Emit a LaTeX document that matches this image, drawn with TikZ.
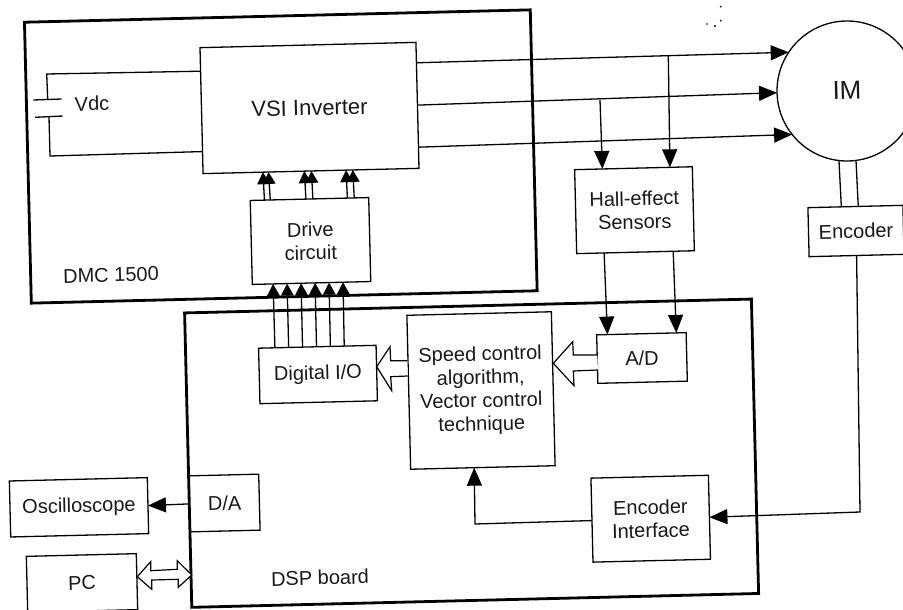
\documentclass[tikz,border=0pt]{standalone}
\usepackage{fontspec}
\setmainfont{Liberation Sans}
\usetikzlibrary{arrows.meta,calc}
\tikzset{
  lbl/.style={inner sep=0pt,rotate=1.4,align=center,font=\fontsize{20}{23.3}\selectfont,text=black!90},
  box/.style n args={2}{draw=black,line width=1.3pt,fill=white,rotate=1.4,inner sep=0pt,outer sep=0pt,
    minimum width=#1pt,minimum height=#2pt,align=center,font=\fontsize{20}{23.3}\selectfont,text=black!90},
  frame/.style n args={2}{draw=black,line width=2.8pt,rotate=1.4,inner sep=0pt,outer sep=0pt,
    minimum width=#1pt,minimum height=#2pt},
  wire/.style={draw=black,line width=1.3pt},
  big/.style={wire,-{Triangle[length=18pt,width=15pt]}},
  small/.style={wire,-{Triangle[length=12pt,width=12.5pt]}},
  hollow/.style={draw=black,line width=1.2pt,fill=white,line join=miter},
  speck/.style={fill=black,draw=none}
}
\begin{document}
\begin{tikzpicture}[x=1pt,y=-1pt]
\useasboundingbox (0,0) rectangle (903,610);
% outer boards
\node[frame={506}{281}] (dmc) at (280.8,156.5) {};
\node[frame={567}{294.5}] (dsp) at (471.6,453.2) {};
% blocks
\node[box={216}{126}] (vsi) at (309.5,108) {\fontsize{22}{24}\selectfont VSI Inverter};
\node[box={118.5}{84}] (drive) at (310.5,241) {Drive\\circuit};
\node[box={117.7}{84}] (hall) at (634.5,210.2) {Hall-effect\\Sensors};
\node[box={95}{49}] (enc) at (856,231) {Encoder};
\node[draw=black,line width=1.3pt,fill=white,circle,minimum size=140pt,inner sep=0pt,outer sep=0pt,rotate=1.4,font=\fontsize{26}{28}\selectfont,text=black!90,text depth=2pt] (im) at (847,91) {IM};
\node[box={117.5}{55.5}] (dio) at (318,374.5) {Digital I/O};
\node[box={144.5}{154}] (algo) at (481,390.5) {Speed control\\algorithm,\\Vector control\\technique};
\node[box={89.5}{48.5}] (ad) at (642,358) {A/D};
\node[box={117.5}{84}] (ei) at (650.7,518.7) {Encoder\\Interface};
\node[box={69.4}{56}] (da) at (224.7,503) {D/A};
\node[box={138}{56}] (osc) at (79,507.3) {Oscilloscope};
\node[box={110}{56}] (pc) at (82,583) {PC};
% labels
\node[lbl] (vdc) at (92,103.5) {Vdc};
\node[lbl] (dmclabel) at (111,275) {DMC 1500};
\node[lbl] (dsplabel) at (320,577.7) {DSP board};
% capacitor
\coordinate (c1) at (46.7,74);
\coordinate (c2) at (47.7,99.3);
\coordinate (c3) at (49,116.7);
\coordinate (c4) at (50,156);
\coordinate (p1) at (33.3,100);
\coordinate (p2) at (61.7,99);
\coordinate (p3) at (35,117.3);
\coordinate (p4) at (62.7,116);
\draw[wire] ($(vsi.north west)!.187!(vsi.south west)$) -- (c1) -- (c2);
\draw[wire] (p1) -- (p2);
\draw[wire] (p3) -- (p4);
\draw[wire] (c3) -- (c4) -- ($(vsi.north west)!.825!(vsi.south west)$);
% inverter to motor
\draw[big] ($(vsi.north east)!.162!(vsi.south east)$) -- (im.145);
\draw[big] ($(vsi.north east)!.498!(vsi.south east)$) -- (im.180);
\draw[big] ($(vsi.north east)!.832!(vsi.south east)$) -- (im.217);
% taps to sensors
\coordinate (tapR) at (668.3,55.7);
\coordinate (tapL) at (600,100);
\draw[big] (tapR) -- ($(hall.north west)!.81!(hall.north east)$);
\draw[big] (tapL) -- ($(hall.north west)!.236!(hall.north east)$);
% sensors to A/D
\draw[big] ($(hall.south west)!.233!(hall.south east)$) -- ($(ad.north west)!.12!(ad.north east)$);
\draw[big] ($(hall.south west)!.82!(hall.south east)$) -- ($(ad.north west)!.89!(ad.north east)$);
% encoder
\draw[wire] (im.262) -- ($(enc.north west)!.352!(enc.north east)$);
\draw[wire] (im.276) -- ($(enc.north west)!.53!(enc.north east)$);
\coordinate (encCorner) at (860,512);
\draw[big] (enc.south) -- (encCorner) -- ($(ei.north east)!.5!(ei.south east)$);
% encoder interface to algorithm
\coordinate (eiCorner) at (475,524);
\draw[big] ($(ei.north west)!.505!(ei.south west)$) -- (eiCorner) -- ($(algo.south west)!.44!(algo.south east)$);
% drive to inverter
\foreach \a/\b in {.12/.277,.169/.303,.47/.469,.529/.5016,.82/.662,.878/.693}
  \draw[small] ($(drive.north west)!\a!(drive.north east)$) -- ($(vsi.south west)!\b!(vsi.south east)$);
% digital I/O to drive
\foreach \a/\b in {.139/.1755,.256/.2937,.374/.412,.493/.53,.611/.648,.729/.766}
  \draw[small] ($(dio.north west)!\a!(dio.north east)$) -- ($(drive.south west)!\b!(drive.south east)$);
% D/A to oscilloscope
\draw[big] (da.west) -- (osc.east);
% hollow arrows
\draw[hollow] (597.3,355) -- (573.3,355) -- (572.7,341.7) -- (553.3,363.3) -- (574,385.7) -- (573.3,371) -- (598,370);
\draw[hollow] (407.3,360.7) -- (390.7,360.7) -- (390,346.7) -- (376.7,366.7) -- (391.7,390.7) -- (390.7,376.7) -- (407.7,376);
\draw[hollow] (137.3,576.7) -- (150.7,561.7) -- (150.7,570.7) -- (177.3,569.3) -- (177.3,560.7) -- (191.7,575) -- (178.3,587.3) -- (178.3,579.3) -- (151.7,580) -- (151.7,589.3) -- cycle;
% specks
\fill[speck] (720.7,6.7) circle (1pt) (720.7,20.7) circle (1pt) (715,26) circle (1.1pt) (707,24) circle (.8pt);
\end{tikzpicture}
\end{document}
